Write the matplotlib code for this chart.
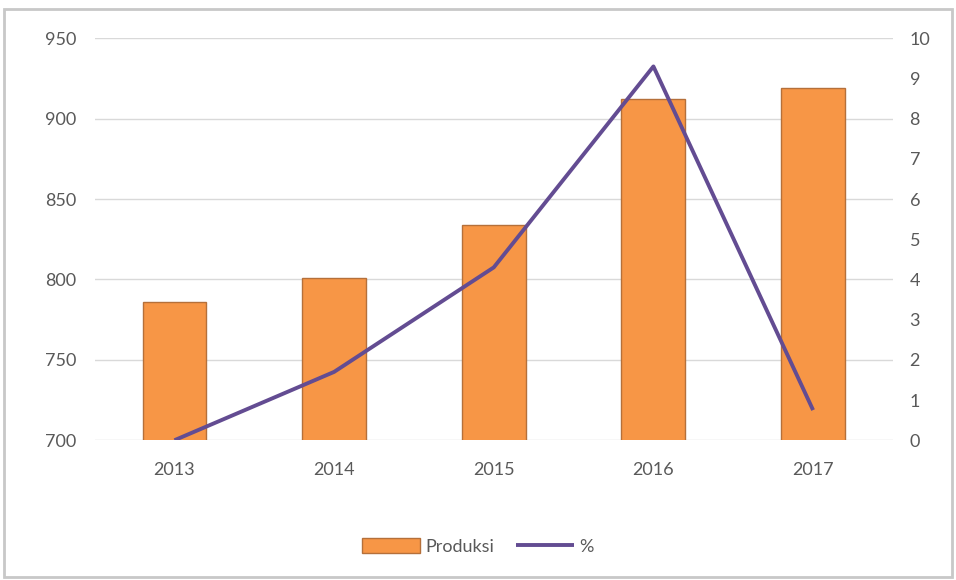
import matplotlib
matplotlib.use('Agg')
import matplotlib.pyplot as plt
from matplotlib.patches import Rectangle

# Produksi per tahun (bar) dan pertumbuhan % (garis)
years = ['2013', '2014', '2015', '2016', '2017']
produksi = [786, 801, 834, 912, 919]
persen = [0.0, 1.7, 4.3, 9.3, 0.75]

plt.rcParams['font.family'] = ['Lato', 'DejaVu Sans']

fig = plt.figure(figsize=(9.56, 5.8), dpi=100)
fig.patch.set_facecolor('white')

# light frame around the chart area
fig.patches.append(Rectangle((0.004, 0.005), 0.992, 0.98, transform=fig.transFigure,
                             fill=False, edgecolor='#C8C8C8', linewidth=2))

ax = fig.add_axes([0.099, 0.241, 0.835, 0.693])
x = range(len(years))
bars = ax.bar(x, produksi, width=0.4, color='#F79646', edgecolor='#B5703A',
              linewidth=1, label='Produksi', zorder=2)
ax.set_ylim(700, 950)
ax.set_yticks(range(700, 951, 50))
ax.set_xlim(-0.5, 4.5)
ax.set_xticks(list(x))
ax.set_xticklabels(years)
ax.grid(axis='y', color='#D9D9D9', linewidth=1, zorder=0)
ax.set_axisbelow(True)
for s in ax.spines.values():
    s.set_visible(False)
ax.tick_params(length=0, labelsize=13, colors='#595959', pad=13)
ax.tick_params(axis='x', pad=16)

ax2 = ax.twinx()
line, = ax2.plot(x, persen, color='#634C92', linewidth=2.8, label='%',
                 solid_capstyle='butt', zorder=3)
ax2.set_ylim(0, 10)
ax2.set_yticks(range(0, 11))
for s in ax2.spines.values():
    s.set_visible(False)
ax2.tick_params(length=0, labelsize=13, colors='#595959', pad=12)

fig.legend(handles=[bars, line], labels=['Produksi', '%'], loc='center',
           bbox_to_anchor=(0.5, 0.058), ncol=2, frameon=False, fontsize=13,
           handlelength=3.2, handleheight=0.9, columnspacing=1.2, handletextpad=0.3,
           labelcolor='#595959')

fig.savefig('out.png', dpi=100)
